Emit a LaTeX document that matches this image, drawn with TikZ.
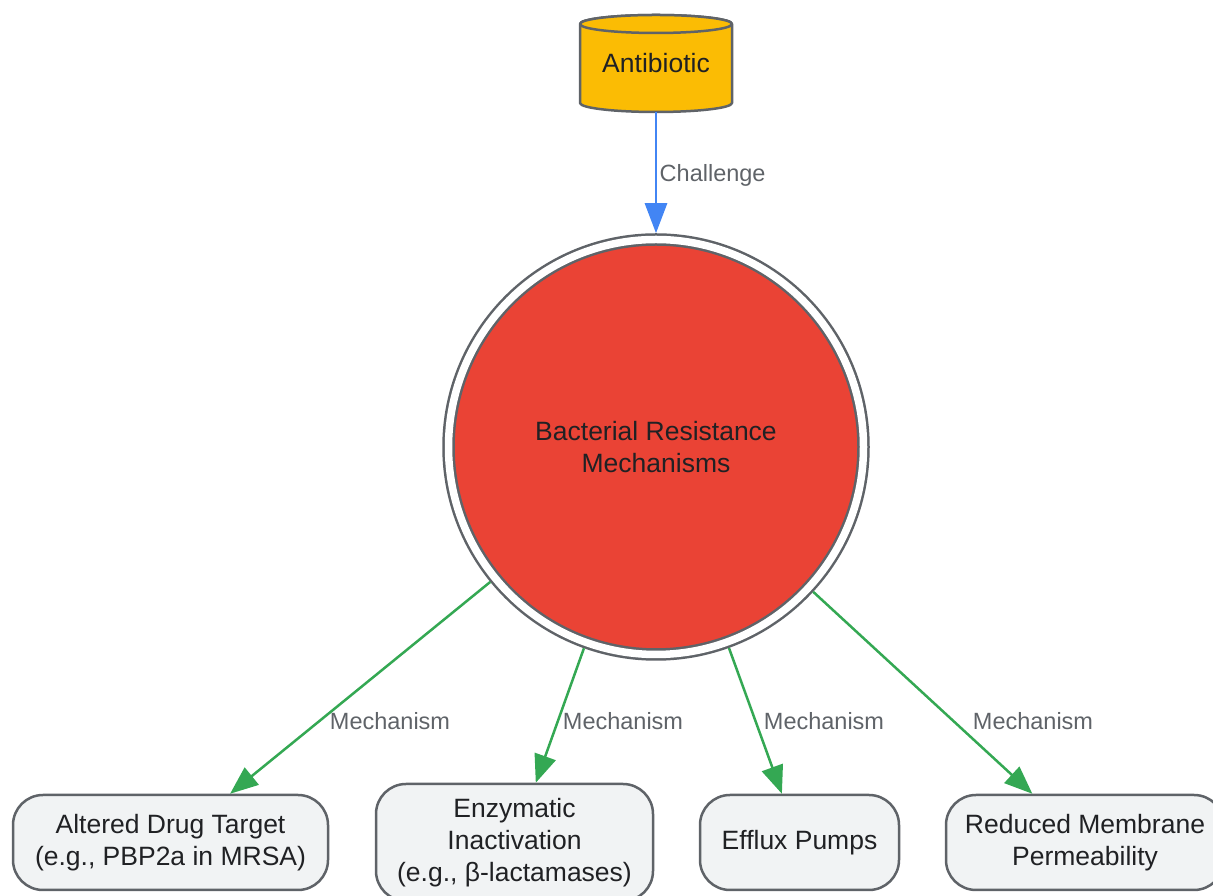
\documentclass[tikz,border=0pt]{standalone}
\usepackage{fontspec}
\setmainfont{Liberation Sans}
\usetikzlibrary{arrows.meta}
\definecolor{gold}{HTML}{FBBC04}
\definecolor{redf}{HTML}{EA4335}
\definecolor{greenl}{HTML}{34A853}
\definecolor{bluel}{HTML}{4285F4}
\definecolor{strokeg}{HTML}{5F6368}
\definecolor{boxf}{HTML}{F1F3F4}
\definecolor{txt}{HTML}{202124}
\definecolor{labc}{HTML}{5F6368}
\begin{document}
\begin{tikzpicture}[x=1pt,y=1pt,
 main/.style={font=\fontsize{26.5pt}{32pt}\selectfont, text=txt, align=center},
 mbox/.style={main, draw=strokeg, line width=2.5pt, fill=boxf, rounded corners=30pt, minimum height=95pt, inner sep=0pt},
 lab/.style={font=\fontsize{23.5pt}{28pt}\selectfont, text=labc},
 garrow/.style={draw=greenl, line width=2.5pt, -{Triangle[length=28pt,width=22pt]}},
 barrow/.style={draw=bluel, line width=2.8pt, -{Triangle[length=30pt,width=22pt]}},
 cyl/.style={fill=gold, draw=strokeg, line width=2.5pt, line join=round}
]
\useasboundingbox (0,0) rectangle (1213,896);
\clip (0,0) rectangle (1213,896);
% cylinder body
\path[cyl] (580,872) -- (580,793) arc[start angle=180,end angle=360,x radius=76,y radius=9] -- (732,872) arc[start angle=0,end angle=180,x radius=76,y radius=9] -- cycle;
\path[cyl] (656,872) ellipse[x radius=76,y radius=9];
\node[main, minimum width=152pt, minimum height=97pt, inner sep=0pt] (anti) at (656,832.5) {Antibiotic};
% central circle
\node[main, circle, fill=redf, draw=strokeg, line width=2.5pt, double=white, double distance=7.5pt, minimum size=415pt, inner sep=0pt, outer sep=6.25pt] (mech) at (656,449) {Bacterial Resistance\\Mechanisms};
% boxes
\node[mbox, minimum width=315pt] (box1) at (170.5,53.5) {Altered Drug Target\\(e.g., PBP2a in MRSA)};
\node[mbox, minimum width=277pt, minimum height=117pt] (box2) at (514.5,53.5) {Enzymatic\\Inactivation\\(e.g., β-lactamases)};
\node[mbox, minimum width=199pt] (box3) at (799.5,53.5) {Efflux Pumps};
\node[mbox, minimum width=278pt] (box4) at (1085,53.5) {Reduced Membrane\\Permeability};
% connectors
\draw[barrow] (anti.south) -- (mech) node[lab, anchor=west] at (655,721) {Challenge};
\draw[garrow] (mech) -- (box1) node[lab] at (390,175) {Mechanism};
\draw[garrow] (mech) -- (box2) node[lab] at (623,175) {Mechanism};
\draw[garrow] (mech) -- (box3) node[lab] at (824,175) {Mechanism};
\draw[garrow] (mech) -- (box4) node[lab] at (1033,175) {Mechanism};
\end{tikzpicture}
\end{document}
